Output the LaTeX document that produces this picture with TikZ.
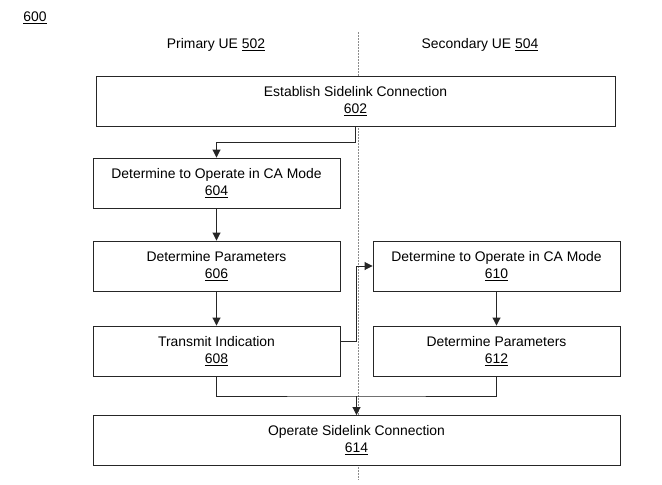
\documentclass[tikz,border=0pt]{standalone}
\usepackage{fontspec}
\setmainfont{Liberation Sans}
\usetikzlibrary{arrows.meta}
\begin{document}
\begin{tikzpicture}[x=1pt,y=-1pt,
  box/.style={draw=black!85, fill=white, line width=0.9pt, inner sep=0pt, align=center,
    minimum height=50pt, font=\fontsize{13.9}{17}\selectfont},
  lbl/.style={inner sep=0pt, font=\fontsize{13.9}{17}\selectfont},
  arr/.style={draw=black!85, line width=0.9pt, -{Triangle[length=8pt,width=8pt]}},
  conn/.style={draw=black!85, line width=0.9pt},
  lane/.style={draw=black!45, line width=0.5pt, dash pattern=on 1.5pt off 1.5pt}]
\useasboundingbox (0,0) rectangle (662,485);
\fill[white] (0,0) rectangle (662,485);
% swimlane divider
\coordinate (dt) at (358,32);
\coordinate (db) at (358,480);
\draw[lane] (dt) -- (db);
% labels
\node[lbl] (fig) at (35,18) {\underline{600}};
\node[lbl] (pue) at (216,45) {Primary UE \underline{502}};
\node[lbl] (sue) at (480,45) {Secondary UE \underline{504}};
% boxes
\node[box, minimum width=519pt] (n602) at (355.5,101) {Establish Sidelink Connection\\\underline{602}};
\node[box, minimum width=247pt] (n604) at (216.5,183) {Determine to Operate in CA Mode\\\underline{604}};
\node[box, minimum width=247pt] (n606) at (216.5,266) {Determine Parameters\\\underline{606}};
\node[box, minimum width=247pt] (n608) at (216.5,351) {Transmit Indication\\\underline{608}};
\node[box, minimum width=247pt] (n610) at (496.5,266) {Determine to Operate in CA Mode\\\underline{610}};
\node[box, minimum width=247pt] (n612) at (496.5,351) {Determine Parameters\\\underline{612}};
\node[box, minimum width=527pt] (n614) at (356.5,440.5) {Operate Sidelink Connection\\\underline{614}};
% connectors
\draw[arr] (n602.south) -- ++(0,16) -| (n604.north);
\draw[arr] (n604.south) -- (n606.north);
\draw[arr] (n606.south) -- (n608.north);
\draw[arr] ([yshift=10pt]n608.east) -- ++(16,0) |- (n610.west);
\draw[arr] (n610.south) -- (n612.north);
\coordinate (m) at (356.5,396);
\draw[conn] (n608.south) |- (m) -| (n612.south);
\draw[arr] (m) -- (n614.north);
\end{tikzpicture}
\end{document}
